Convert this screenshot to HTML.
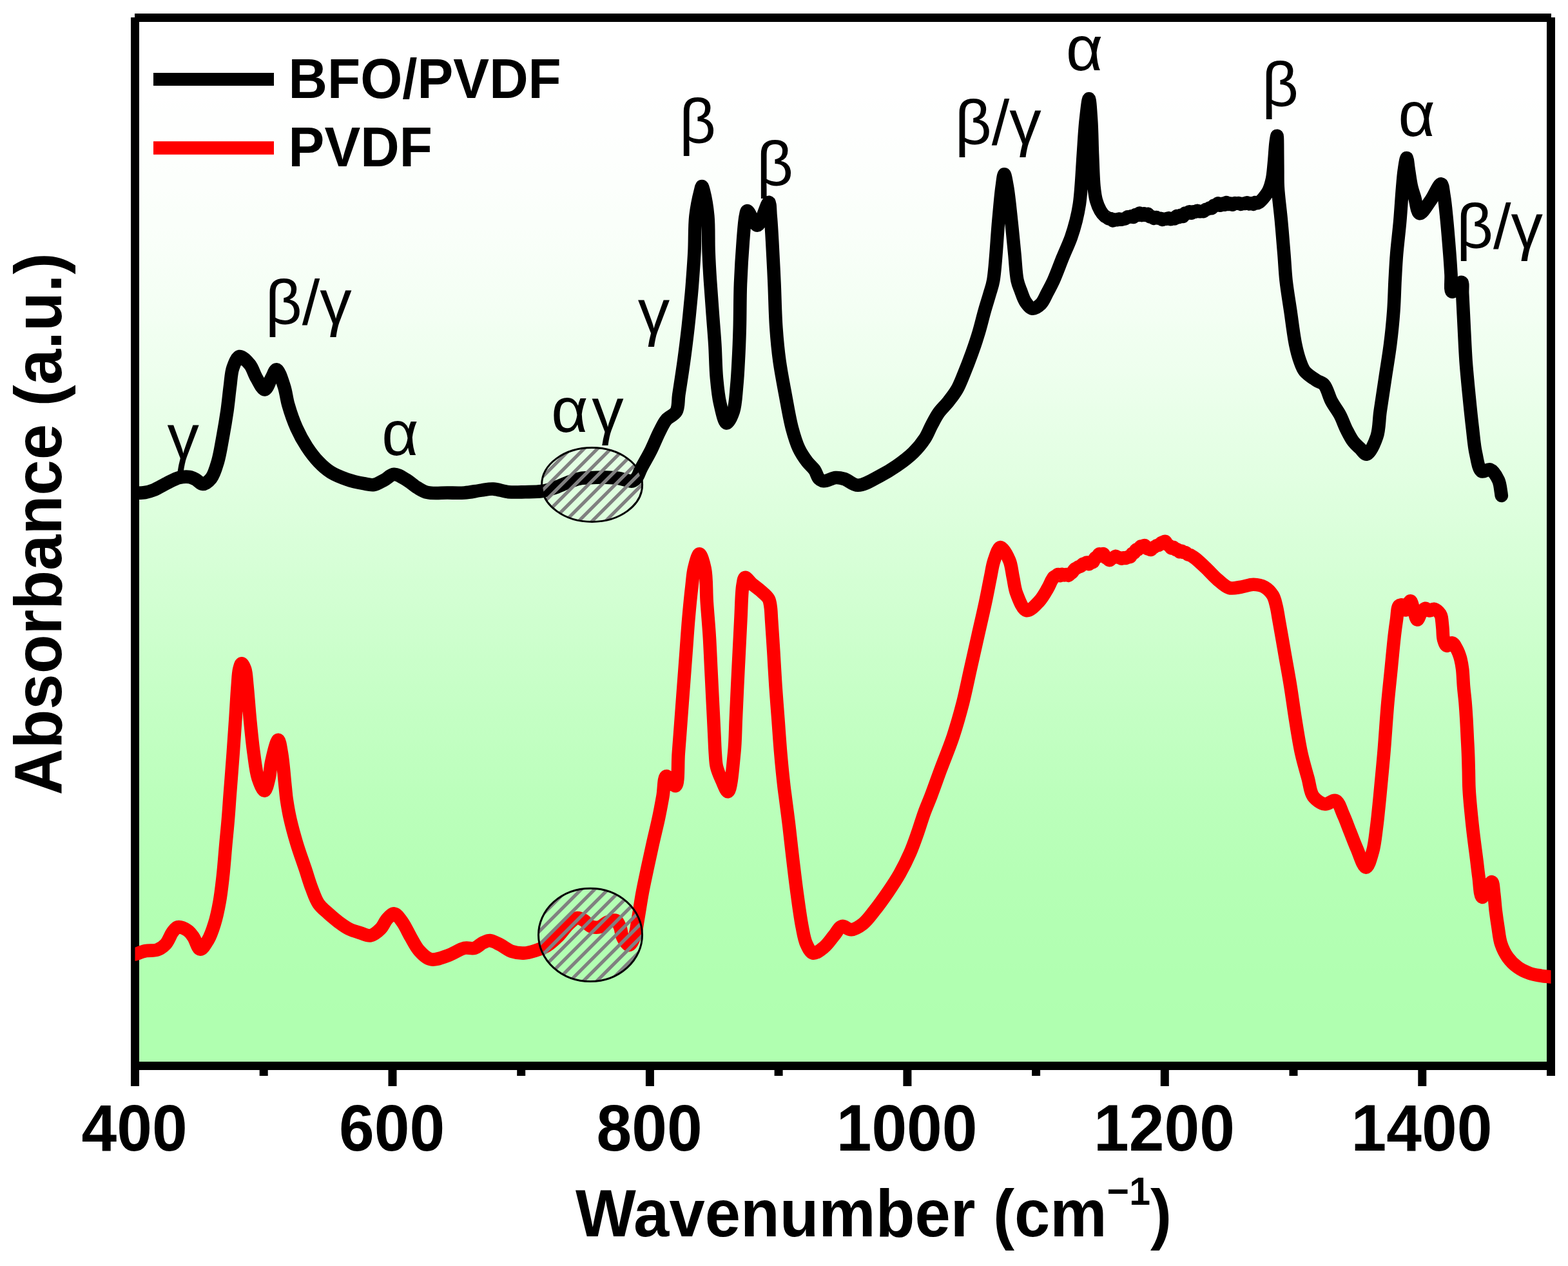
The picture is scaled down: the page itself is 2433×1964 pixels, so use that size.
<!DOCTYPE html>
<html lang="en"><head><meta charset="utf-8"><title>FTIR absorbance spectra of BFO/PVDF and PVDF</title>
<style>html,body{margin:0;padding:0;background:#fff;}body{width:2433px;height:1964px;overflow:hidden;}svg{display:block;}text{font-family:"Liberation Sans",Arial,Helvetica,sans-serif;fill:#000;}.b{font-weight:bold;}.ax{font-size:99px;font-weight:bold;}.lg{font-size:83px;font-weight:bold;}.gk{font-size:99px;font-weight:normal;}</style></head><body>
<svg width="2433" height="1964" viewBox="0 0 2433 1964" role="img" aria-label="FTIR absorbance spectra">
<defs>
<linearGradient id="bg" x1="0" y1="0" x2="0" y2="1"><stop offset="0.0000" stop-color="#ffffff"/><stop offset="0.0125" stop-color="#ffffff"/><stop offset="0.0250" stop-color="#ffffff"/><stop offset="0.0375" stop-color="#ffffff"/><stop offset="0.0500" stop-color="#ffffff"/><stop offset="0.0625" stop-color="#ffffff"/><stop offset="0.0750" stop-color="#ffffff"/><stop offset="0.0875" stop-color="#fefffe"/><stop offset="0.1000" stop-color="#fefffe"/><stop offset="0.1125" stop-color="#fefffe"/><stop offset="0.1250" stop-color="#fdfffd"/><stop offset="0.1375" stop-color="#fdfffd"/><stop offset="0.1500" stop-color="#fcfffc"/><stop offset="0.1625" stop-color="#fcfffc"/><stop offset="0.1750" stop-color="#fbfffb"/><stop offset="0.1875" stop-color="#fafffa"/><stop offset="0.2000" stop-color="#fafffa"/><stop offset="0.2125" stop-color="#f9fff9"/><stop offset="0.2250" stop-color="#f8fff8"/><stop offset="0.2375" stop-color="#f7fff7"/><stop offset="0.2500" stop-color="#f6fff6"/><stop offset="0.2625" stop-color="#f5fff5"/><stop offset="0.2750" stop-color="#f4fff4"/><stop offset="0.2875" stop-color="#f3fff3"/><stop offset="0.3000" stop-color="#f1fff1"/><stop offset="0.3125" stop-color="#f0fff0"/><stop offset="0.3250" stop-color="#efffef"/><stop offset="0.3375" stop-color="#eeffee"/><stop offset="0.3500" stop-color="#ecffec"/><stop offset="0.3625" stop-color="#ebffeb"/><stop offset="0.3750" stop-color="#e9ffe9"/><stop offset="0.3875" stop-color="#e8ffe8"/><stop offset="0.4000" stop-color="#e6ffe6"/><stop offset="0.4125" stop-color="#e5ffe5"/><stop offset="0.4250" stop-color="#e3ffe3"/><stop offset="0.4375" stop-color="#e2ffe2"/><stop offset="0.4500" stop-color="#e0ffe0"/><stop offset="0.4625" stop-color="#deffde"/><stop offset="0.4750" stop-color="#ddffdd"/><stop offset="0.4875" stop-color="#dbffdb"/><stop offset="0.5000" stop-color="#d9ffd9"/><stop offset="0.5125" stop-color="#d8ffd8"/><stop offset="0.5250" stop-color="#d6ffd6"/><stop offset="0.5375" stop-color="#d4ffd4"/><stop offset="0.5500" stop-color="#d3ffd3"/><stop offset="0.5625" stop-color="#d1ffd1"/><stop offset="0.5750" stop-color="#cfffcf"/><stop offset="0.5875" stop-color="#ceffce"/><stop offset="0.6000" stop-color="#ccffcc"/><stop offset="0.6125" stop-color="#caffca"/><stop offset="0.6250" stop-color="#c9ffc9"/><stop offset="0.6375" stop-color="#c7ffc7"/><stop offset="0.6500" stop-color="#c6ffc6"/><stop offset="0.6625" stop-color="#c4ffc4"/><stop offset="0.6750" stop-color="#c3ffc3"/><stop offset="0.6875" stop-color="#c2ffc2"/><stop offset="0.7000" stop-color="#c0ffc0"/><stop offset="0.7125" stop-color="#bfffbf"/><stop offset="0.7250" stop-color="#beffbe"/><stop offset="0.7375" stop-color="#bcffbc"/><stop offset="0.7500" stop-color="#bbffbb"/><stop offset="0.7625" stop-color="#baffba"/><stop offset="0.7750" stop-color="#b9ffb9"/><stop offset="0.7875" stop-color="#b8ffb8"/><stop offset="0.8000" stop-color="#b7ffb7"/><stop offset="0.8125" stop-color="#b6ffb6"/><stop offset="0.8250" stop-color="#b5ffb5"/><stop offset="0.8375" stop-color="#b5ffb5"/><stop offset="0.8500" stop-color="#b4ffb4"/><stop offset="0.8625" stop-color="#b3ffb3"/><stop offset="0.8750" stop-color="#b3ffb3"/><stop offset="0.8875" stop-color="#b2ffb2"/><stop offset="0.9000" stop-color="#b2ffb2"/><stop offset="0.9125" stop-color="#b1ffb1"/><stop offset="0.9250" stop-color="#b1ffb1"/><stop offset="0.9375" stop-color="#b1ffb1"/><stop offset="0.9500" stop-color="#b0ffb0"/><stop offset="0.9625" stop-color="#b0ffb0"/><stop offset="0.9750" stop-color="#b0ffb0"/><stop offset="0.9875" stop-color="#b0ffb0"/><stop offset="1.0000" stop-color="#b0ffb0"/></linearGradient>
<clipPath id="plot"><rect x="209.5" y="0" width="2197.0" height="1700"/></clipPath>
<clipPath id="e1"><ellipse cx="918.6" cy="752" rx="78" ry="57.4"/></clipPath>
<clipPath id="e2"><ellipse cx="916" cy="1450.4" rx="80.5" ry="72.1"/></clipPath>
</defs>
<rect x="0" y="0" width="2433" height="1964" fill="#fff"/>
<rect x="209.5" y="27.5" width="2197.0" height="1626.0" fill="url(#bg)"/>
<g stroke="#000" stroke-width="13" fill="none" stroke-linecap="butt">
<path d="M209 27.5H2407"/>
<path d="M209.5 1653.5H2406.5"/>
<path d="M209.5 27V1685"/>
<path d="M2406.5 27V1669"/>
<path d="M609.0 1655V1685"/>
<path d="M1008.4 1655V1685"/>
<path d="M1407.9 1655V1685"/>
<path d="M1807.3 1655V1685"/>
<path d="M2206.8 1655V1685"/>
<path d="M409.2 1655V1669"/>
<path d="M808.7 1655V1669"/>
<path d="M1208.1 1655V1669"/>
<path d="M1607.6 1655V1669"/>
<path d="M2007.0 1655V1669"/>
</g>
<g clip-path="url(#plot)" fill="none" stroke-width="20.6" stroke-linejoin="round" stroke-linecap="round">
<path stroke="#000" d="M209.5 765.0C214.7 764.7 220.0 764.9 225.0 764.0C229.8 763.2 234.0 762.0 239.0 760.0C245.4 757.4 253.2 752.3 260.0 749.0C266.2 746.0 272.0 742.5 278.0 741.0C283.4 739.7 289.4 739.3 294.0 740.0C297.8 740.6 300.7 742.3 304.0 744.0C307.6 745.9 310.8 751.0 314.5 751.0C318.6 751.0 324.0 746.5 327.6 742.0C332.4 736.0 335.1 725.7 338.0 716.0C341.4 704.5 343.4 690.2 345.8 677.3C348.2 664.3 350.4 651.3 352.3 638.3C354.2 625.3 355.4 611.2 357.0 599.2C358.4 588.9 358.5 578.7 361.4 570.6C363.8 563.8 367.4 553.8 371.8 553.0C376.1 552.2 383.2 560.2 387.5 565.4C392.1 571.0 394.0 579.6 397.9 586.2C401.8 592.6 406.9 604.6 410.9 604.4C414.7 604.2 418.1 591.7 421.3 586.2C424.1 581.5 426.4 573.0 429.1 573.2C432.8 573.4 437.8 590.2 440.8 599.2C443.9 608.4 444.4 617.9 447.3 627.9C450.6 639.4 455.3 653.1 460.3 664.3C464.9 674.6 470.2 684.1 476.0 693.0C481.5 701.4 487.8 709.7 494.2 716.4C500.0 722.5 505.4 727.6 512.4 732.0C520.0 736.8 529.6 740.6 538.4 743.7C547.0 746.7 556.9 748.8 564.5 750.2C570.3 751.3 575.0 752.8 580.1 752.0C585.4 751.2 590.6 747.6 595.7 745.0C601.0 742.3 605.8 736.2 611.3 735.9C617.1 735.5 623.7 740.4 629.6 743.7C635.9 747.2 641.8 753.2 647.8 756.7C653.1 759.8 657.1 762.6 663.4 764.0C671.9 766.0 684.7 764.4 694.7 764.5C703.8 764.6 712.1 765.1 720.7 764.5C729.4 763.9 738.7 761.6 746.7 760.6C753.5 759.7 759.0 758.3 765.6 758.6C773.0 758.9 781.0 762.4 789.0 763.2C797.4 764.0 806.3 763.4 815.0 763.2C823.7 763.0 833.1 763.2 841.0 762.0C847.9 760.9 853.7 759.1 860.0 757.0C866.7 754.8 873.3 751.3 880.0 748.8C886.6 746.4 893.3 743.6 900.0 742.3C906.6 741.0 913.3 741.3 920.0 741.0C926.7 740.7 933.3 740.4 940.0 740.6C946.7 740.8 954.2 741.1 960.0 742.0C964.5 742.7 968.3 744.2 972.0 745.0C975.2 745.7 978.3 747.2 981.0 746.5C983.6 745.8 985.9 743.6 988.0 741.0C990.7 737.6 991.9 732.5 994.7 727.0C998.7 719.1 1005.5 707.9 1010.3 698.2C1015.0 688.7 1019.1 677.9 1023.4 669.5C1026.9 662.7 1029.4 656.5 1033.8 651.3C1038.1 646.2 1046.1 644.2 1049.4 638.3C1053.2 631.6 1051.8 622.5 1053.3 612.3C1055.5 597.9 1058.7 577.6 1061.1 560.2C1063.5 542.8 1065.6 525.5 1067.6 508.1C1069.5 490.7 1071.6 469.5 1072.8 456.0C1073.6 447.4 1073.9 443.3 1074.5 435.0C1075.4 422.8 1076.7 405.8 1077.5 390.0C1078.4 372.6 1077.6 351.7 1079.5 335.0C1081.1 320.8 1084.9 303.7 1086.9 296.0C1087.8 292.7 1088.4 289.0 1089.2 289.0C1090.0 289.0 1090.9 292.7 1091.8 296.0C1093.8 303.7 1097.0 320.8 1098.3 335.0C1099.9 351.7 1098.9 372.6 1099.6 390.0C1100.2 405.8 1101.0 419.8 1102.0 435.0C1103.0 450.5 1104.2 466.0 1105.4 482.1C1106.6 499.0 1108.2 516.8 1109.3 534.1C1110.4 551.5 1110.4 570.1 1111.9 586.2C1113.2 600.2 1114.3 613.1 1117.1 625.3C1119.7 636.4 1123.5 656.1 1127.5 656.5C1130.7 656.8 1135.4 645.8 1137.9 638.3C1141.4 628.0 1141.8 612.2 1143.1 599.2C1144.4 586.2 1145.0 574.1 1145.7 560.2C1146.6 544.1 1147.3 526.6 1147.8 508.1C1148.4 486.9 1148.1 462.5 1149.0 440.0C1149.9 417.9 1151.4 393.3 1152.9 374.2C1154.1 359.4 1155.1 343.1 1156.9 335.0C1157.7 331.3 1158.0 327.2 1159.6 327.0C1162.5 326.6 1170.2 350.0 1175.3 349.6C1181.4 349.1 1189.7 313.2 1192.9 313.7C1195.2 314.1 1194.8 326.8 1195.6 335.0C1196.7 346.1 1197.3 359.4 1198.2 374.2C1199.3 393.3 1200.5 417.9 1201.5 440.0C1202.5 462.5 1202.8 486.9 1204.3 508.1C1205.6 526.6 1207.1 542.9 1209.5 560.2C1211.9 577.6 1215.4 595.0 1218.6 612.3C1221.9 629.7 1225.0 649.3 1229.0 664.3C1232.2 676.2 1235.2 686.5 1239.5 695.6C1243.2 703.5 1248.0 710.4 1252.5 716.4C1256.3 721.4 1261.1 724.8 1264.2 729.4C1267.0 733.6 1267.9 739.6 1270.7 742.4C1272.9 744.6 1275.3 746.0 1278.5 746.3C1283.2 746.7 1291.1 741.5 1296.7 741.1C1301.4 740.8 1305.2 741.6 1310.0 743.0C1316.4 744.9 1323.3 752.7 1331.2 752.8C1341.1 753.0 1354.7 743.8 1365.1 738.5C1374.5 733.7 1382.6 728.8 1391.1 722.9C1400.0 716.7 1409.6 709.6 1417.2 702.1C1424.2 695.2 1430.5 687.5 1435.4 679.9C1439.8 673.1 1442.2 665.8 1445.8 659.1C1449.2 652.8 1452.1 646.8 1456.2 640.9C1460.6 634.6 1467.0 628.9 1471.8 622.7C1476.5 616.7 1481.0 611.1 1484.8 604.4C1488.9 597.3 1491.7 589.6 1495.3 581.0C1499.5 570.8 1504.3 558.3 1508.3 547.2C1512.1 536.6 1515.5 526.6 1518.7 515.9C1522.0 504.9 1524.8 492.6 1527.8 482.1C1530.4 472.8 1533.3 464.2 1535.6 456.0C1537.7 448.6 1539.6 444.6 1541.3 435.0C1544.8 415.2 1546.9 368.8 1549.4 342.4C1551.3 322.6 1552.7 303.7 1554.6 290.4C1555.8 282.1 1556.9 270.3 1558.3 270.3C1559.7 270.3 1561.5 282.1 1563.0 290.4C1565.3 303.6 1567.3 325.0 1569.2 342.4C1571.1 359.7 1572.8 378.2 1574.4 394.5C1575.8 408.8 1576.3 424.7 1578.5 435.0C1579.9 441.6 1581.7 445.4 1583.8 450.8C1586.0 456.7 1588.2 464.2 1591.6 469.0C1594.5 473.1 1598.1 478.2 1602.0 478.7C1605.9 479.2 1611.3 475.3 1615.0 471.7C1619.4 467.4 1622.1 459.5 1625.4 453.4C1628.7 447.3 1631.5 442.2 1634.8 435.0C1639.2 425.2 1644.3 411.1 1648.9 399.7C1653.3 388.9 1658.3 378.4 1661.9 368.4C1665.1 359.4 1667.5 351.1 1669.7 342.4C1671.8 333.8 1673.6 325.1 1674.9 316.4C1676.2 307.8 1676.7 300.6 1677.5 290.4C1678.7 276.0 1679.7 255.7 1680.9 238.3C1682.1 220.9 1683.1 201.6 1684.8 186.2C1686.2 173.9 1688.3 153.1 1689.7 153.1C1691.1 153.1 1692.2 173.9 1693.1 186.2C1694.2 201.6 1694.3 220.9 1695.0 238.3C1695.8 255.7 1696.2 277.0 1697.6 290.4C1698.5 298.9 1699.2 304.9 1701.0 311.2C1702.6 316.9 1704.9 322.5 1707.4 326.8C1709.4 330.2 1712.0 333.4 1714.0 335.1C1715.2 336.2 1716.2 336.3 1717.2 337.0C1718.3 337.8 1719.3 339.1 1720.4 339.4C1721.4 339.7 1722.6 338.7 1723.6 339.1C1724.8 339.5 1725.7 342.2 1726.8 342.4C1727.8 342.5 1728.9 340.8 1730.0 340.6C1731.0 340.5 1732.2 341.4 1733.2 341.2C1734.3 341.1 1735.3 339.5 1736.4 339.5C1737.5 339.4 1738.5 340.7 1739.6 340.8C1740.7 340.8 1741.7 340.0 1742.8 339.8C1743.9 339.5 1745.0 339.8 1746.0 339.3C1747.2 338.7 1748.0 336.8 1749.2 336.4C1750.2 336.1 1751.4 336.9 1752.4 336.7C1753.5 336.5 1754.5 335.4 1755.6 335.4C1756.7 335.5 1757.8 337.1 1758.8 336.9C1760.0 336.6 1760.8 333.4 1762.0 333.0C1763.0 332.7 1764.2 334.1 1765.2 333.9C1766.4 333.6 1767.3 330.5 1768.4 330.6C1769.5 330.6 1770.5 334.0 1771.6 334.1C1772.6 334.1 1773.7 331.3 1774.8 331.3C1775.9 331.2 1776.9 333.9 1778.0 334.0C1779.0 334.0 1780.2 331.7 1781.2 331.8C1782.4 332.0 1783.1 335.7 1784.4 336.3C1785.4 336.8 1786.6 336.0 1787.6 336.3C1788.7 336.7 1789.7 338.8 1790.8 338.9C1791.8 339.0 1792.9 337.1 1794.0 337.1C1795.1 337.0 1796.1 338.3 1797.2 338.5C1798.2 338.8 1799.4 338.4 1800.4 338.8C1801.5 339.2 1802.5 340.8 1803.6 340.9C1804.6 341.0 1805.7 339.9 1806.8 339.7C1807.8 339.5 1809.0 339.9 1810.0 339.7C1811.1 339.5 1812.1 338.1 1813.2 338.2C1814.3 338.3 1815.3 340.2 1816.4 340.2C1817.5 340.2 1818.5 338.5 1819.6 338.4C1820.6 338.2 1821.8 339.6 1822.8 339.3C1824.0 338.9 1824.8 335.4 1826.0 335.1C1827.0 335.0 1828.2 337.2 1829.2 337.1C1830.3 336.9 1831.3 333.9 1832.4 333.8C1833.4 333.7 1834.6 336.1 1835.6 335.9C1836.8 335.6 1837.5 331.2 1838.8 330.6C1839.7 330.2 1841.0 331.6 1842.0 331.3C1843.2 331.0 1844.1 328.5 1845.2 328.4C1846.2 328.3 1847.3 330.7 1848.4 330.7C1849.5 330.7 1850.5 328.6 1851.6 328.3C1852.6 328.1 1853.8 328.9 1854.8 328.7C1855.9 328.5 1856.9 326.8 1858.0 326.8C1859.1 326.7 1860.1 328.2 1861.2 328.3C1862.2 328.5 1863.3 327.9 1864.4 327.8C1865.5 327.8 1866.6 328.4 1867.6 328.0C1868.8 327.5 1869.6 325.4 1870.8 324.9C1871.8 324.4 1873.0 324.7 1874.0 324.4C1875.1 324.0 1876.1 322.6 1877.2 322.4C1878.2 322.2 1879.4 323.5 1880.4 323.1C1881.6 322.7 1882.3 319.3 1883.6 318.7C1884.6 318.3 1885.8 319.3 1886.8 318.9C1888.0 318.4 1888.9 315.4 1890.0 315.4C1891.1 315.4 1892.1 318.7 1893.2 318.8C1894.2 318.8 1895.3 316.0 1896.4 315.8C1897.4 315.8 1898.6 318.0 1899.6 317.8C1900.7 317.6 1901.7 314.2 1902.8 314.1C1903.8 314.1 1904.9 316.7 1906.0 316.9C1907.0 317.1 1908.2 315.6 1909.2 315.6C1910.3 315.7 1911.4 317.7 1912.4 317.6C1913.5 317.6 1914.5 315.4 1915.6 315.1C1916.6 314.8 1917.7 315.7 1918.8 315.7C1919.9 315.7 1921.0 314.9 1922.0 315.1C1923.1 315.3 1924.1 316.8 1925.2 316.9C1926.2 317.0 1927.3 316.1 1928.4 315.9C1929.5 315.7 1930.6 316.2 1931.6 315.9C1932.7 315.7 1933.8 314.2 1934.8 314.3C1935.9 314.3 1936.9 316.4 1938.0 316.5C1939.0 316.6 1940.1 315.2 1941.2 315.3C1942.3 315.3 1943.4 317.0 1944.4 316.9C1945.5 316.7 1946.5 314.2 1947.6 314.0C1948.6 313.8 1949.7 315.4 1950.8 315.3C1951.9 315.3 1952.8 314.6 1954.0 313.8C1956.0 312.3 1958.7 309.3 1961.0 306.5C1963.6 303.3 1966.4 299.8 1968.5 295.5C1970.9 290.5 1972.6 284.4 1974.0 278.0C1975.6 270.4 1976.1 261.5 1977.0 252.6C1978.0 242.8 1978.6 229.2 1979.6 221.5C1980.2 217.0 1981.1 210.7 1981.5 210.7C1982.2 210.8 1982.1 230.7 1982.2 240.0C1982.3 248.5 1982.3 256.1 1982.4 264.3C1982.5 272.8 1982.2 280.2 1982.8 290.4C1983.6 304.8 1986.4 325.1 1988.0 342.4C1989.6 359.8 1991.1 378.2 1992.4 394.5C1993.6 408.8 1994.0 421.0 1995.5 435.0C1997.2 450.1 1999.9 466.0 2002.3 482.1C2004.8 499.0 2007.1 519.8 2010.1 534.1C2012.2 544.4 2014.4 552.7 2017.1 560.2C2019.3 566.2 2020.7 571.1 2024.4 575.8C2028.7 581.2 2037.1 586.4 2042.7 590.1C2046.9 592.9 2051.0 592.9 2054.4 596.6C2059.4 602.0 2061.8 614.6 2066.1 622.7C2070.1 630.2 2075.2 636.2 2079.1 643.5C2083.1 650.9 2085.8 659.7 2089.5 666.9C2092.8 673.4 2096.1 680.1 2099.9 685.1C2103.1 689.3 2106.8 692.3 2110.3 695.6C2113.7 698.8 2117.3 705.3 2120.8 704.7C2126.0 703.8 2132.9 687.6 2136.4 677.3C2140.3 665.8 2139.6 652.2 2141.6 638.3C2143.9 622.2 2146.8 603.6 2149.4 586.2C2152.0 568.8 2155.0 551.5 2157.2 534.1C2159.4 516.8 2161.2 499.0 2162.4 482.1C2163.6 466.0 2163.8 450.1 2164.6 435.0C2165.4 421.0 2165.9 408.8 2167.1 394.5C2168.4 378.2 2170.8 359.8 2172.3 342.4C2173.8 325.1 2174.9 304.8 2176.2 290.4C2177.1 280.2 2177.6 272.3 2178.8 264.3C2179.8 257.4 2181.5 245.0 2182.7 245.0C2183.9 245.0 2184.7 257.4 2185.9 264.3C2187.2 272.3 2188.5 282.9 2190.3 290.4C2191.7 296.3 2193.2 300.2 2195.0 306.0C2197.3 313.4 2198.7 330.4 2202.8 331.2C2206.9 332.0 2214.3 318.5 2219.7 311.2C2225.5 303.3 2232.6 284.8 2236.1 285.4C2238.8 285.8 2239.2 296.2 2240.5 303.4C2242.4 313.9 2243.6 328.4 2245.0 342.4C2246.6 358.5 2248.2 379.3 2249.4 394.5C2250.3 406.2 2250.9 415.7 2251.5 425.7C2252.1 435.0 2249.8 451.4 2253.0 452.6C2255.8 453.7 2265.3 436.8 2267.9 437.8C2270.4 438.7 2268.7 448.4 2269.2 456.0C2270.0 468.9 2270.9 490.7 2271.8 508.1C2272.7 525.5 2273.4 542.8 2274.6 560.2C2275.9 577.6 2277.6 594.9 2279.3 612.3C2281.0 629.6 2282.9 648.2 2284.8 664.3C2286.5 678.3 2287.3 691.6 2290.0 703.4C2292.3 713.6 2294.0 728.3 2299.1 731.2C2302.5 733.2 2308.2 727.0 2312.1 728.4C2317.1 730.2 2322.3 739.0 2325.1 745.0C2327.7 750.7 2328.2 758.9 2329.0 763.3C2329.4 765.7 2329.5 767.1 2329.8 769.0"/>
<path stroke="#ff0000" d="M209.5 1480.5C215.0 1478.7 220.3 1476.4 226.0 1475.2C231.9 1474.0 238.9 1475.4 244.3 1473.4C249.3 1471.6 253.6 1468.4 257.3 1464.3C261.6 1459.6 264.2 1450.7 267.7 1446.1C270.3 1442.7 272.2 1439.1 275.5 1438.3C279.6 1437.3 286.9 1440.7 291.1 1443.5C295.0 1446.1 297.3 1449.7 300.2 1453.9C303.8 1459.1 306.7 1472.2 310.6 1472.6C314.2 1473.0 319.0 1464.7 322.4 1459.1C326.7 1452.1 329.9 1442.5 332.8 1433.1C336.1 1422.7 338.5 1410.9 340.6 1399.2C342.9 1386.7 344.2 1374.2 345.8 1360.2C347.6 1344.1 349.0 1324.2 350.5 1308.1C351.8 1294.1 353.1 1281.6 354.1 1269.0C355.1 1257.3 355.6 1248.2 356.6 1235.0C358.0 1216.5 360.2 1189.2 361.7 1168.4C363.0 1150.0 364.1 1133.7 365.3 1116.4C366.5 1099.0 367.5 1078.7 368.7 1064.3C369.5 1054.1 369.7 1044.7 371.3 1038.3C372.3 1034.4 373.5 1029.3 375.0 1029.2C376.5 1029.1 378.9 1034.3 380.2 1038.3C382.3 1044.6 382.4 1054.1 383.5 1064.3C385.0 1078.7 386.3 1099.1 388.0 1116.4C389.7 1133.8 391.4 1152.3 393.7 1168.4C395.7 1182.4 397.0 1197.0 400.5 1207.5C403.1 1215.3 407.6 1227.0 410.4 1226.8C413.2 1226.6 415.6 1214.5 417.4 1207.5C419.4 1199.6 419.2 1190.6 421.3 1181.5C423.7 1170.9 428.9 1147.8 431.7 1147.9C433.9 1148.0 435.4 1159.9 436.9 1168.4C439.3 1181.7 441.2 1207.3 442.6 1220.5C443.5 1228.6 443.7 1232.9 444.7 1240.0C446.0 1248.7 447.6 1258.7 449.9 1269.0C452.6 1281.1 456.4 1295.1 460.3 1308.1C464.2 1321.2 469.3 1334.8 473.4 1347.1C477.1 1358.1 480.1 1368.8 483.8 1378.4C487.1 1386.9 489.6 1395.1 494.2 1401.8C498.4 1408.0 504.5 1412.5 509.8 1417.4C514.9 1422.1 520.1 1426.5 525.4 1430.5C530.5 1434.3 535.5 1438.1 541.1 1440.9C546.8 1443.7 553.4 1445.6 559.3 1447.4C564.7 1449.0 569.9 1452.2 574.9 1451.3C580.3 1450.4 586.2 1445.2 590.5 1440.9C594.8 1436.6 597.0 1429.4 600.9 1425.3C604.2 1421.8 608.3 1417.1 611.9 1417.4C616.1 1417.8 620.5 1425.2 624.4 1430.5C629.1 1436.9 633.0 1446.4 637.4 1453.9C641.6 1461.1 645.1 1468.9 650.4 1474.7C655.5 1480.3 661.6 1486.8 668.6 1488.3C676.2 1489.9 686.2 1485.3 694.7 1482.5C703.5 1479.6 713.0 1472.5 720.7 1470.8C726.4 1469.6 731.5 1472.2 736.3 1470.8C741.2 1469.4 745.6 1464.2 750.0 1462.2C753.6 1460.6 756.6 1458.9 760.4 1459.1C765.1 1459.3 770.7 1463.0 776.0 1465.6C781.9 1468.5 788.0 1473.8 794.3 1476.0C800.2 1478.0 806.5 1478.8 812.5 1478.6C818.6 1478.4 824.7 1476.6 830.7 1474.7C836.9 1472.7 843.1 1470.5 848.9 1466.9C855.3 1462.9 861.5 1456.9 867.2 1451.3C872.8 1445.7 877.5 1437.9 882.8 1433.1C887.1 1429.2 891.6 1424.5 895.8 1424.0C899.3 1423.6 902.9 1425.9 906.2 1427.9C909.9 1430.1 912.6 1435.3 916.6 1437.0C920.5 1438.7 925.4 1439.2 929.6 1438.3C934.1 1437.3 938.2 1432.2 942.7 1430.5C946.9 1428.9 952.4 1426.5 955.7 1427.9C958.8 1429.3 960.5 1434.3 962.2 1438.3C964.1 1442.8 963.8 1449.2 966.1 1453.9C968.4 1458.5 972.9 1466.2 976.0 1466.1C979.0 1466.0 982.1 1459.1 984.3 1453.9C987.4 1446.6 988.1 1435.6 990.0 1425.3C992.2 1413.3 994.1 1399.2 996.5 1386.2C998.9 1373.1 1001.8 1360.1 1004.5 1347.1C1007.3 1334.1 1010.1 1321.1 1013.0 1308.1C1015.9 1295.1 1019.3 1281.6 1022.0 1269.0C1024.5 1257.3 1026.5 1246.1 1028.5 1235.0C1030.4 1224.5 1029.8 1205.3 1033.8 1204.1C1037.1 1203.1 1044.8 1220.3 1048.1 1219.2C1053.3 1217.4 1051.4 1185.4 1052.8 1168.4C1054.2 1151.2 1055.4 1133.7 1056.7 1116.4C1058.0 1099.0 1059.3 1081.7 1060.6 1064.3C1061.9 1046.9 1063.2 1029.6 1064.5 1012.2C1065.8 994.9 1066.9 977.5 1068.4 960.2C1069.9 942.8 1071.9 922.5 1073.6 908.1C1074.8 897.9 1075.0 890.4 1077.0 882.1C1078.9 874.2 1082.5 859.4 1085.3 859.4C1088.1 859.4 1091.7 872.8 1093.7 882.1C1096.6 895.7 1095.6 916.8 1096.8 934.1C1098.0 951.5 1099.6 968.8 1100.7 986.2C1101.8 1003.6 1102.4 1020.9 1103.3 1038.3C1104.2 1055.7 1105.0 1073.0 1105.9 1090.4C1106.8 1107.7 1107.8 1128.0 1108.5 1142.4C1109.0 1152.6 1109.2 1160.2 1109.8 1168.4C1110.4 1175.7 1110.3 1182.4 1111.9 1189.2C1113.5 1196.3 1116.7 1203.5 1119.7 1210.1C1122.6 1216.4 1126.8 1228.6 1129.6 1228.1C1134.4 1227.3 1137.2 1187.7 1139.2 1168.4C1141.1 1150.5 1141.0 1133.7 1141.8 1116.4C1142.6 1099.0 1143.4 1081.7 1144.2 1064.3C1145.0 1046.9 1145.9 1029.6 1146.8 1012.2C1147.7 994.9 1148.5 977.5 1149.4 960.2C1150.4 942.8 1150.5 919.4 1152.5 908.1C1153.5 902.5 1153.9 896.5 1156.1 895.9C1158.4 895.3 1162.8 902.3 1166.5 905.5C1170.6 909.0 1175.3 912.1 1179.6 915.9C1184.1 919.9 1190.0 924.2 1192.6 928.9C1194.9 933.0 1195.0 937.2 1195.7 942.0C1196.5 947.5 1196.5 952.6 1197.0 960.2C1197.9 973.1 1199.3 994.9 1200.4 1012.2C1201.5 1029.6 1202.3 1046.9 1203.5 1064.3C1204.7 1081.7 1206.1 1099.0 1207.4 1116.4C1208.7 1133.7 1209.8 1151.1 1211.3 1168.4C1212.8 1185.8 1215.1 1208.5 1216.5 1220.5C1217.2 1226.8 1217.6 1228.8 1218.4 1235.0C1219.8 1246.2 1222.5 1266.0 1224.4 1282.1C1226.4 1299.0 1228.2 1316.8 1230.3 1334.1C1232.4 1351.5 1234.4 1368.8 1236.8 1386.2C1239.2 1403.6 1241.8 1424.0 1244.7 1438.3C1246.7 1448.5 1247.9 1457.2 1251.2 1464.3C1253.9 1470.1 1257.2 1477.6 1261.6 1478.6C1266.2 1479.6 1273.3 1473.7 1278.5 1469.5C1284.3 1464.8 1289.2 1457.0 1294.1 1451.3C1298.5 1446.2 1301.7 1438.2 1306.5 1437.0C1310.8 1435.9 1315.8 1442.5 1320.8 1442.2C1326.6 1441.9 1333.4 1437.5 1339.1 1433.1C1345.7 1428.0 1351.2 1419.9 1357.3 1412.2C1364.2 1403.5 1371.5 1393.2 1378.1 1383.6C1384.5 1374.2 1390.7 1364.9 1396.3 1355.0C1402.0 1344.9 1407.3 1334.2 1411.9 1323.7C1416.4 1313.4 1420.0 1302.9 1423.7 1292.5C1427.4 1282.1 1430.5 1271.1 1434.1 1261.2C1437.4 1252.0 1440.8 1244.7 1444.5 1235.0C1449.1 1223.0 1454.0 1208.8 1459.3 1194.5C1465.3 1178.2 1473.1 1159.9 1478.9 1142.4C1484.6 1125.2 1489.5 1107.8 1494.0 1090.4C1498.4 1073.1 1501.8 1055.7 1505.7 1038.3C1509.6 1020.9 1513.5 1003.6 1517.4 986.2C1521.3 968.8 1525.7 950.2 1529.1 934.1C1532.1 920.2 1534.5 906.8 1536.9 895.1C1538.9 885.5 1539.8 877.1 1542.6 869.1C1545.2 861.8 1548.7 849.3 1552.5 849.0C1556.5 848.7 1562.9 861.6 1566.1 869.1C1569.5 876.9 1569.9 886.4 1571.8 895.1C1573.7 903.8 1574.2 912.7 1577.5 921.1C1581.0 930.1 1586.6 945.9 1592.9 947.2C1598.5 948.3 1607.0 938.5 1612.4 932.8C1617.8 927.2 1621.9 919.3 1625.4 913.3C1628.2 908.6 1630.1 903.3 1632.0 900.1C1633.2 898.0 1634.0 896.3 1635.2 895.2C1636.2 894.4 1637.4 894.3 1638.4 893.7C1639.5 892.9 1640.5 891.1 1641.6 891.1C1642.7 891.0 1643.7 893.3 1644.8 893.3C1645.9 893.2 1646.9 890.7 1648.0 890.7C1649.0 890.6 1650.1 892.5 1651.2 892.5C1652.3 892.6 1653.3 891.0 1654.4 891.1C1655.5 891.1 1656.6 893.0 1657.6 892.9C1658.7 892.8 1659.7 891.0 1660.8 890.1C1661.8 889.3 1663.0 888.8 1664.0 887.8C1665.2 886.6 1666.0 884.4 1667.2 883.3C1668.2 882.4 1669.3 882.1 1670.4 881.4C1671.5 880.8 1672.5 879.9 1673.6 879.4C1674.6 878.9 1675.8 879.1 1676.8 878.5C1678.0 877.8 1678.8 875.8 1680.0 875.1C1681.0 874.5 1682.1 874.5 1683.2 874.0C1684.3 873.6 1685.4 872.4 1686.4 872.5C1687.5 872.7 1688.5 875.1 1689.6 875.2C1690.7 875.2 1691.7 873.4 1692.8 872.9C1693.8 872.5 1695.1 872.9 1696.0 872.1C1697.4 871.0 1697.8 866.7 1699.2 865.5C1700.1 864.6 1701.4 865.0 1702.4 864.2C1703.6 863.2 1704.3 859.9 1705.6 859.4C1706.6 859.1 1707.7 860.4 1708.8 860.3C1709.9 860.3 1711.1 858.7 1712.0 859.0C1713.3 859.4 1713.9 863.3 1715.2 864.6C1716.2 865.6 1717.4 865.9 1718.4 866.6C1719.5 867.4 1720.5 869.1 1721.6 869.1C1722.7 869.0 1723.7 867.1 1724.8 866.4C1725.8 865.8 1727.0 865.6 1728.0 865.0C1729.1 864.4 1730.1 862.9 1731.2 862.8C1732.2 862.8 1733.3 864.1 1734.4 864.5C1735.4 864.9 1736.5 864.9 1737.6 865.3C1738.7 865.7 1739.7 866.8 1740.8 866.8C1741.9 866.8 1742.9 865.4 1744.0 865.2C1745.0 865.1 1746.2 866.1 1747.2 865.9C1748.3 865.7 1749.3 864.2 1750.4 863.9C1751.4 863.6 1752.7 864.5 1753.6 864.0C1754.9 863.3 1755.5 859.8 1756.8 858.7C1757.7 857.9 1759.0 858.3 1760.0 857.6C1761.3 856.6 1761.9 853.4 1763.2 852.6C1764.1 852.0 1765.4 852.8 1766.4 852.3C1767.7 851.5 1768.3 848.4 1769.6 847.7C1770.6 847.2 1771.8 847.9 1772.8 847.7C1773.9 847.4 1775.0 845.8 1776.0 846.1C1777.2 846.4 1778.0 849.6 1779.2 850.5C1780.2 851.3 1781.3 851.4 1782.4 851.8C1783.5 852.2 1784.6 853.2 1785.6 853.0C1786.7 852.8 1787.7 850.7 1788.8 849.8C1789.8 849.1 1790.9 848.7 1792.0 848.1C1793.1 847.5 1794.1 846.7 1795.2 846.3C1796.2 845.9 1797.4 846.2 1798.4 845.6C1799.6 845.0 1800.4 843.1 1801.6 842.3C1802.6 841.7 1803.7 841.4 1804.8 841.0C1805.9 840.6 1807.0 839.5 1808.0 839.9C1809.3 840.3 1810.0 843.5 1811.2 844.7C1812.2 845.6 1813.4 845.7 1814.4 846.6C1815.6 847.6 1816.4 850.2 1817.6 850.5C1818.6 850.7 1819.8 848.7 1820.8 848.9C1822.0 849.1 1822.8 852.2 1824.0 852.7C1825.0 853.1 1826.2 852.1 1827.2 852.5C1828.4 853.0 1829.2 856.1 1830.4 856.3C1831.4 856.5 1832.6 854.6 1833.6 854.7C1834.7 854.8 1835.7 856.8 1836.8 857.2C1837.8 857.5 1839.0 856.8 1840.0 857.2C1841.2 857.7 1842.0 859.6 1843.2 860.2C1844.2 860.8 1845.4 860.6 1846.4 861.0C1847.5 861.4 1848.4 862.1 1849.6 862.8C1851.2 863.8 1852.8 864.8 1855.0 866.5C1859.0 869.6 1865.4 875.7 1870.8 880.8C1876.7 886.4 1882.8 893.7 1889.1 899.0C1895.0 904.0 1900.9 910.2 1907.3 912.0C1913.1 913.6 1919.4 911.5 1925.5 910.7C1931.9 909.8 1938.7 906.7 1945.0 906.8C1950.9 906.9 1957.0 908.0 1962.0 910.7C1967.1 913.5 1972.0 918.8 1975.0 923.7C1977.9 928.4 1978.7 933.7 1980.2 939.3C1981.9 945.7 1982.6 951.7 1984.1 960.2C1986.5 973.6 1990.2 994.9 1993.2 1012.2C1996.2 1029.6 1999.5 1046.9 2002.3 1064.3C2005.1 1081.6 2007.3 1099.1 2010.1 1116.4C2012.9 1133.8 2015.7 1152.4 2019.2 1168.4C2022.3 1182.4 2026.3 1195.6 2029.6 1207.5C2032.4 1217.5 2032.6 1228.4 2037.5 1235.2C2041.8 1241.1 2049.5 1246.5 2055.7 1247.4C2061.3 1248.2 2068.0 1240.2 2072.6 1242.0C2078.0 1244.2 2080.7 1256.1 2084.3 1263.8C2088.1 1272.0 2091.2 1281.2 2094.7 1289.9C2098.2 1298.6 2101.2 1307.0 2105.1 1315.9C2109.4 1325.5 2115.2 1345.7 2119.5 1345.6C2123.4 1345.5 2127.2 1330.4 2129.9 1321.1C2133.2 1309.8 2134.5 1293.8 2136.1 1282.1C2137.4 1272.5 2138.1 1264.2 2139.0 1256.0C2139.8 1248.6 2140.2 1244.0 2141.1 1235.0C2142.6 1219.0 2145.3 1191.5 2147.3 1168.4C2149.4 1143.4 2151.2 1113.8 2153.3 1090.4C2155.0 1071.3 2156.8 1055.7 2158.5 1038.3C2160.2 1020.9 2162.1 1000.3 2163.7 986.2C2164.8 976.6 2165.7 969.9 2166.9 962.0C2168.1 954.4 2168.0 942.2 2170.9 939.5C2172.3 938.2 2174.5 938.1 2176.0 938.8C2178.1 939.7 2179.5 946.6 2181.3 946.5C2183.7 946.3 2186.4 932.1 2188.5 932.2C2190.6 932.3 2192.2 942.5 2194.0 947.5C2195.7 952.3 2197.1 961.3 2199.1 961.5C2201.0 961.6 2203.1 953.1 2205.4 950.0C2207.3 947.4 2209.3 944.0 2211.6 943.7C2213.7 943.4 2216.2 947.4 2218.5 947.5C2220.6 947.6 2222.7 944.6 2224.9 944.8C2227.3 945.0 2230.4 947.6 2232.3 949.5C2234.0 951.2 2235.1 953.0 2236.0 955.3C2237.0 957.9 2237.1 961.3 2237.5 964.5C2237.9 967.9 2238.1 971.1 2238.5 975.0C2239.0 980.0 2238.6 987.4 2240.0 992.2C2241.1 996.0 2242.6 1001.0 2244.9 1001.8C2247.1 1002.5 2251.0 996.8 2253.5 997.4C2256.1 998.0 2258.3 1003.1 2260.0 1006.0C2261.5 1008.6 2262.5 1011.1 2263.6 1013.8C2264.7 1016.6 2265.6 1019.2 2266.4 1022.6C2267.5 1027.1 2268.5 1032.4 2269.2 1038.3C2270.1 1045.9 2270.3 1055.6 2271.0 1064.3C2271.7 1073.0 2272.9 1081.7 2273.6 1090.4C2274.3 1099.1 2274.9 1107.7 2275.4 1116.4C2275.9 1125.1 2276.3 1133.7 2276.7 1142.4C2277.1 1151.1 2277.7 1159.7 2278.0 1168.4C2278.4 1177.1 2278.5 1185.5 2278.8 1194.5C2279.1 1204.3 2278.9 1213.3 2279.6 1225.0C2280.5 1241.1 2282.8 1263.5 2284.8 1282.1C2286.7 1299.9 2289.5 1319.7 2291.3 1334.1C2292.6 1344.3 2293.2 1351.1 2294.5 1360.2C2296.0 1370.3 2296.3 1391.2 2299.9 1391.9C2303.3 1392.6 2311.7 1367.4 2314.7 1368.0C2317.1 1368.5 2317.2 1379.6 2318.1 1386.2C2319.2 1394.1 2319.7 1403.5 2320.7 1412.2C2321.8 1420.9 2323.0 1429.6 2324.4 1438.3C2325.8 1447.0 2326.4 1456.3 2329.1 1464.3C2331.6 1471.8 2335.1 1479.0 2339.5 1485.1C2343.8 1491.1 2349.3 1496.5 2355.1 1500.7C2360.6 1504.7 2367.1 1507.7 2373.3 1509.9C2379.2 1512.0 2385.7 1512.8 2391.5 1513.8C2396.7 1514.7 2401.5 1515.0 2406.5 1515.6"/>
</g>
<g clip-path="url(#e1)" stroke="#808080" stroke-width="5.2">
<path d="M725.0 815.0L850.0 690.0M745.8 815.0L870.8 690.0M766.6 815.0L891.6 690.0M787.4 815.0L912.4 690.0M808.2 815.0L933.2 690.0M829.0 815.0L954.0 690.0M849.8 815.0L974.8 690.0M870.6 815.0L995.6 690.0M891.4 815.0L1016.4 690.0M912.2 815.0L1037.2 690.0M933.0 815.0L1058.0 690.0M953.8 815.0L1078.8 690.0M974.6 815.0L1099.6 690.0M995.4 815.0L1120.4 690.0"/>
</g>
<ellipse cx="918.6" cy="752" rx="78" ry="57.4" fill="none" stroke="#000" stroke-width="3"/>
<g clip-path="url(#e2)" stroke="#808080" stroke-width="5.2">
<path d="M691.2 1528.0L847.2 1372.0M712.0 1528.0L868.0 1372.0M732.8 1528.0L888.8 1372.0M753.6 1528.0L909.6 1372.0M774.4 1528.0L930.4 1372.0M795.2 1528.0L951.2 1372.0M816.0 1528.0L972.0 1372.0M836.8 1528.0L992.8 1372.0M857.6 1528.0L1013.6 1372.0M878.4 1528.0L1034.4 1372.0M899.2 1528.0L1055.2 1372.0M920.0 1528.0L1076.0 1372.0M940.8 1528.0L1096.8 1372.0M961.6 1528.0L1117.6 1372.0M982.4 1528.0L1138.4 1372.0"/>
</g>
<ellipse cx="916" cy="1450.4" rx="80.5" ry="72.1" fill="none" stroke="#000" stroke-width="3"/>
<path d="M238 123H425" stroke="#000" stroke-width="20"/>
<path d="M238 229.5H425" stroke="#ff0000" stroke-width="20.5"/>
<text class="b" font-size="83.7" transform="translate(447.6 152.0) scale(1 1.041)">BFO/PVDF</text>
<text class="b" font-size="83.7" transform="translate(447.6 257.9) scale(1 1.041)">PVDF</text>
<text class="b" font-size="98.4" transform="translate(208.7 1784.8) scale(1 1.041)" text-anchor="middle">400</text>
<text class="b" font-size="98.4" transform="translate(608.2 1784.8) scale(1 1.041)" text-anchor="middle">600</text>
<text class="b" font-size="98.4" transform="translate(1007.6 1784.8) scale(1 1.041)" text-anchor="middle">800</text>
<text class="b" font-size="98.4" transform="translate(1407.1 1784.8) scale(1 1.041)" text-anchor="middle">1000</text>
<text class="b" font-size="98.4" transform="translate(1806.5 1784.8) scale(1 1.041)" text-anchor="middle">1200</text>
<text class="b" font-size="98.4" transform="translate(2206.0 1784.8) scale(1 1.041)" text-anchor="middle">1400</text>
<text class="b" font-size="99.4" transform="translate(893.0 1917.6) scale(1 1.041)">Wavenumber (cm<tspan font-size="59" dy="-46.6">−1</tspan><tspan dy="46.6">)</tspan></text>
<text class="b" font-size="99.6" transform="translate(95.0 1233.5) rotate(-90) scale(1 1.041)">Absorbance (a.u.)</text>
<text class="gk" x="259.4" y="711.6">γ</text>
<text class="gk" x="411.7" y="503.3">β/γ</text>
<text class="gk" x="592.3" y="706.3">α</text>
<text class="gk" x="855.3" y="669.8">α</text>
<text class="gk" x="918.2" y="671.0">γ</text>
<text class="gk" x="989.8" y="518.4">γ</text>
<text class="gk" x="1054.1" y="222.3">β</text>
<text class="gk" x="1174.1" y="288.0">β</text>
<text class="gk" x="1481.8" y="224.2">β/γ</text>
<text class="gk" x="1654.0" y="109.1">α</text>
<text class="gk" x="1958.1" y="164.9">β</text>
<text class="gk" x="2169.6" y="210.7">α</text>
<text class="gk" x="2260.1" y="384.6">β/γ</text>
</svg></body></html>
